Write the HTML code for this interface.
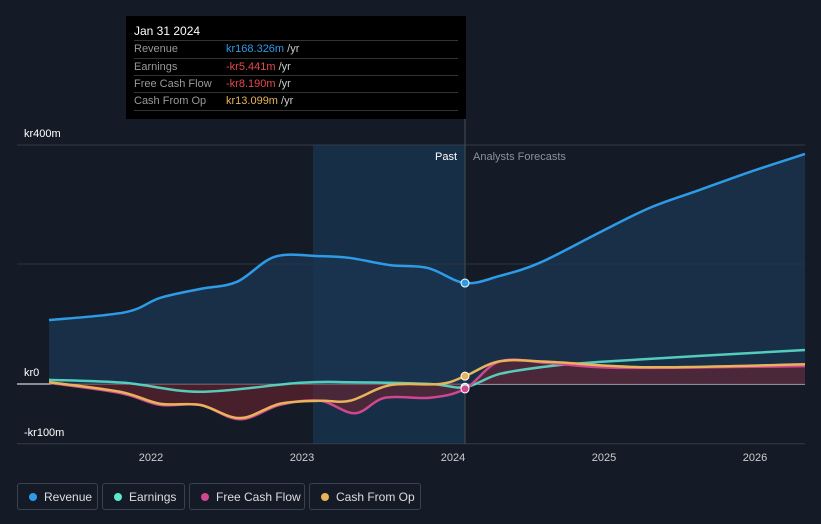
<!DOCTYPE html>
<html><head><meta charset="utf-8"><style>
body{margin:0;background:#151b26;font-family:"Liberation Sans",sans-serif;}
#wrap{position:relative;width:821px;height:524px;overflow:hidden;background:#151b26}
.tt{position:absolute;left:126px;top:16px;width:340px;height:103px;background:#000;color:#fff;font-size:11px}
.tt .row{position:absolute;left:8px;width:324px;border-top:1px solid #333;height:17px;line-height:17px;color:#999}
.tt .row span{position:absolute;left:92px}
.lg{position:absolute;top:483px;height:27px;border:1px solid #3a4150;border-radius:3px;color:#ddd;font-size:12px;line-height:27px;box-sizing:border-box;padding-left:26px}
.lg i{position:absolute;left:11px;top:9px;width:8px;height:8px;border-radius:50%}
</style></head><body>
<div id="wrap">
<svg id="svg" width="821" height="524" style="position:absolute;left:0;top:0"></svg>
<div class="tt">
<div style="position:absolute;left:8px;top:8px;font-size:12px">Jan 31 2024</div>
<div class="row" style="top:24px">Revenue<span style="color:#2d9be6">kr168.326m <b style="font-weight:normal;color:#ccc">/yr</b></span></div>
<div class="row" style="top:42px">Earnings<span style="color:#e5484d">-kr5.441m <b style="font-weight:normal;color:#ccc">/yr</b></span></div>
<div class="row" style="top:59px">Free Cash Flow<span style="color:#e5484d">-kr8.190m <b style="font-weight:normal;color:#ccc">/yr</b></span></div>
<div class="row" style="top:76px;border-bottom:1px solid #333">Cash From Op<span style="color:#e8b35a">kr13.099m <b style="font-weight:normal;color:#ccc">/yr</b></span></div>
</div>
<div class="lg" style="left:17px;width:81px"><i style="background:#2d9be6"></i>Revenue</div>
<div class="lg" style="left:102px;width:83px"><i style="background:#5de8d0"></i>Earnings</div>
<div class="lg" style="left:189px;width:116px"><i style="background:#d0478f"></i>Free Cash Flow</div>
<div class="lg" style="left:309px;width:112px"><i style="background:#e8b35a"></i>Cash From Op</div>
</div>
<script>
const revX=[49,125,160,200,237,275,320,350,390,428,465,500,540,600,650,700,750,805];
const revV=[107,120,144,159,171,213,214,211,199,194,169,181,203,254,295,325,355,385];
const earX=[49,125,200,300,350,430,465,500,550,600,700,805];
const earV=[7,2,-13,2,3,0,-5.4,17,30,37,47,57];
const fcfX=[49,120,160,200,240,280,320,355,385,430,465,500,550,620,805];
const fcfV=[2,-15,-35,-35,-59,-35,-28,-49,-23,-23,-8.2,38,35,27,30];
const cfoX=[49,120,160,200,240,280,320,350,390,440,465,500,550,650,805];
const cfoV=[3,-13,-33,-35,-57,-33,-28,-28,-2,0,13.1,38,37,28,33];
const yTicks=[400,0,-100];
const yLabels=["kr400m","kr0","-kr100m"];
const xTicks=[2022,2023,2024,2025,2026];
const toYear=px=>2022+(px-151)/151;
const X=t=>151+(t-2022)*151;
const Y=v=>384-v*0.5975;
const svg=document.getElementById('svg');
const NS='http://www.w3.org/2000/svg';
function add(tag,attrs,name,txt){const e=document.createElementNS(NS,tag);for(const k in attrs)e.setAttribute(k,attrs[k]);


if(txt)e.textContent=txt;svg.appendChild(e);return e;}
function pts(xs,vs){return xs.map((x,i)=>[X(toYear(x)),Y(vs[i])]);}
function path(p){let d='M'+p[0][0]+','+p[0][1];for(let i=0;i<p.length-1;i++){const p0=p[i-1]||p[i],p1=p[i],p2=p[i+1],p3=p[i+2]||p2;
d+=` C${p1[0]+(p2[0]-p0[0])/6},${p1[1]+(p2[1]-p0[1])/6} ${p2[0]-(p3[0]-p1[0])/6},${p2[1]-(p3[1]-p1[1])/6} ${p2[0]},${p2[1]}`;}return d;}
const xDiv=X(toYear(465));
add('rect',{x:X(toYear(313)),y:145,width:xDiv-X(toYear(313)),height:299,fill:'#17344f',opacity:0.8},'past-highlight');
yTicks.forEach((v,i)=>{add('line',{x1:17,x2:805,y1:Y(v),y2:Y(v),stroke:v==0?'#fff':'#333b48','stroke-width':1},'gridline');
add('text',{x:24,y:Y(v)-8,fill:'#fff','font-size':11},'y-label',yLabels[i]);});
add('line',{x1:17,x2:805,y1:264,y2:264,stroke:'#2c3440'},'gridline');
add('line',{x1:xDiv,x2:xDiv,y1:16,y2:444,stroke:'#444c5a'},'divider');
add('text',{x:xDiv-8,y:160,fill:'#fff','font-size':11,'text-anchor':'end'},'past-label','Past');
add('text',{x:xDiv+8,y:160,fill:'#8a929e','font-size':11},'forecast-label','Analysts Forecasts');
xTicks.forEach(t=>add('text',{x:X(t),y:461,fill:'#ccc','font-size':11,'text-anchor':'middle'},'x-label',String(t)));
const rp=pts(revX,revV);const rd=path(rp);
add('path',{d:rd+` L${rp[rp.length-1][0]},${Y(0)} L${rp[0][0]},${Y(0)} Z`,fill:'#1a3550',opacity:0.8},'revenue-area');
const fp=pts(fcfX,fcfV);
add('path',{d:path(fp)+` L${fp[fp.length-1][0]},${Y(0)} L${fp[0][0]},${Y(0)} Z`,fill:'#6b2430',opacity:0.6},'fcf-area');
add('path',{d:rd,fill:'none',stroke:'#2d9be6','stroke-width':2.5},'revenue-line');
add('path',{d:path(pts(earX,earV)),fill:'none',stroke:'#5de8d0','stroke-width':2.5,opacity:0.85},'earnings-line');
add('path',{d:path(fp),fill:'none',stroke:'#d0478f','stroke-width':2.5},'fcf-line');
add('path',{d:path(pts(cfoX,cfoV)),fill:'none',stroke:'#e8b35a','stroke-width':2.5},'cfo-line');
[[revV[10],'#2d9be6'],[earV[6],'#5de8d0'],[fcfV[10],'#d0478f'],[cfoV[10],'#e8b35a']].forEach(([v,c])=>add('circle',{cx:xDiv,cy:Y(v),r:4,fill:c,stroke:'#fff','stroke-width':1},'tooltip-marker'));
</script>
</body></html>
